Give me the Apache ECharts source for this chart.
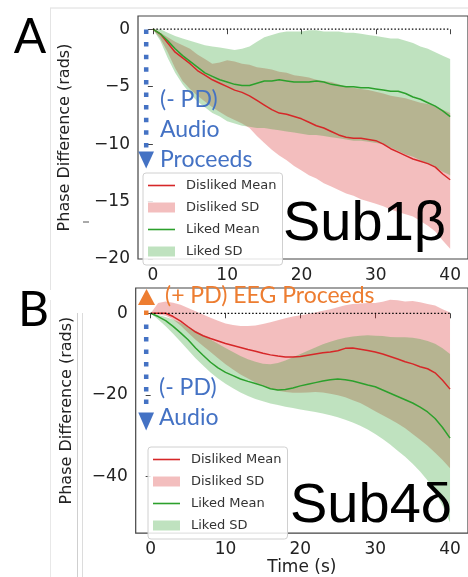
<!DOCTYPE html>
<html><head><meta charset="utf-8">
<script src="https://cdn.jsdelivr.net/npm/echarts@6/dist/echarts.min.js"></script>
<style>html,body{margin:0;padding:0;background:#fff}#c{width:468px;height:577px}</style>
</head><body><div id="c"></div>
<script>
// ---------- data ----------
const time = [0,1,2,3,4,5,6,7,8,9,10,11,12,13,14,15,16,17,18,19,20,21,22,23,24,25,26,27,28,29,30,31,32,33,34,35,36,37,38,39,40];
const xTicks = [0,10,20,30,40];
const yTicksA = [-20,-15,-10,-5,0];
const yTicksB = [-40,-20,0];
const zeroLine = [[0,0],[40,0]];

// Panel A (Sub1 beta)
const aDislikedMean = [0,-0.4,-1.2,-2.0,-2.5,-3.0,-3.6,-4.0,-4.4,-4.7,-5.0,-5.3,-5.5,-5.8,-6.2,-6.6,-7.0,-7.3,-7.4,-7.6,-7.8,-8.1,-8.4,-8.6,-8.9,-9.2,-9.4,-9.5,-9.5,-9.6,-9.7,-10.0,-10.4,-10.7,-11.0,-11.3,-11.5,-11.7,-12.0,-12.6,-13.1];
const aDislikedHi = [0,-0.3,-0.7,-1.1,-1.4,-1.7,-2.2,-2.6,-3.0,-2.9,-2.7,-2.8,-3.0,-3.1,-3.3,-3.4,-3.5,-3.7,-3.8,-4.0,-4.1,-4.2,-4.4,-4.5,-4.6,-4.8,-5.0,-5.1,-5.2,-5.3,-5.45,-5.6,-5.8,-5.9,-6.0,-6.2,-6.4,-6.5,-6.7,-7.0,-7.3];
const aDislikedLo = [0,-0.8,-2.0,-3.4,-4.5,-5.2,-5.8,-6.3,-6.8,-7.2,-7.6,-7.9,-8.2,-8.6,-9.3,-9.9,-10.5,-11.0,-11.4,-11.9,-12.3,-12.7,-13.0,-13.4,-13.7,-14.0,-14.3,-14.5,-14.8,-15.0,-15.2,-15.4,-15.7,-15.9,-16.1,-16.3,-16.7,-17.1,-17.6,-18.4,-19.1];
const aLikedMean = [0,-0.4,-1.0,-1.7,-2.3,-2.8,-3.3,-3.8,-4.1,-4.4,-4.6,-4.8,-4.9,-4.9,-4.7,-4.5,-4.5,-4.4,-4.5,-4.6,-4.6,-4.6,-4.5,-4.6,-4.8,-4.9,-5.0,-5.0,-5.1,-5.1,-5.2,-5.3,-5.4,-5.4,-5.6,-5.9,-6.1,-6.4,-6.7,-7.1,-7.6];
const aLikedHi = [0,0,-0.3,-0.6,-0.8,-1.0,-1.2,-1.4,-1.5,-1.6,-1.7,-1.8,-1.7,-1.5,-1.1,-0.7,-0.5,-0.3,-0.2,-0.2,-0.2,-0.1,-0.1,-0.2,-0.2,-0.2,-0.3,-0.3,-0.4,-0.5,-0.6,-0.7,-0.8,-0.8,-1.0,-1.2,-1.5,-1.7,-2.0,-2.3,-2.6];
const aLikedLo = [0,-1.0,-2.5,-3.8,-4.8,-5.6,-6.3,-6.8,-7.3,-7.6,-8.0,-8.2,-8.4,-8.5,-8.6,-8.6,-8.7,-8.8,-8.9,-9.0,-9.1,-9.2,-9.2,-9.3,-9.4,-9.5,-9.6,-9.7,-9.7,-9.8,-9.9,-10.0,-10.3,-10.6,-10.9,-11.1,-11.4,-11.7,-12.0,-12.4,-12.7];

// Panel B (Sub4 delta)
const bDislikedMean = [0,0,0,-0.8,-1.9,-3.3,-4.6,-5.5,-6.2,-6.8,-7.4,-7.9,-8.4,-8.9,-9.3,-9.8,-10.2,-10.5,-10.7,-10.7,-10.6,-10.3,-10.0,-9.7,-9.5,-9.2,-8.6,-8.5,-8.8,-9.1,-9.5,-10.0,-10.6,-11.2,-11.9,-12.4,-13.1,-13.6,-14.6,-16.4,-18.6];
const bDislikedHi = [0,2.5,2.9,2.6,2.1,1.3,0.5,-0.3,-1.1,-1.8,-2.5,-2.9,-3.1,-3.1,-3.0,-2.6,-2.2,-1.7,-1.2,-0.8,-0.5,-0.2,0.2,0.6,1.0,1.5,2.0,2.3,2.4,2.5,2.5,2.8,3.3,3.2,2.9,3.0,2.7,2.3,1.9,1.0,0.2];
const bDislikedLo = [0,-0.3,-0.6,-1.5,-3.0,-4.8,-6.5,-8.0,-9.5,-11.0,-12.5,-13.8,-15.0,-16.0,-17.0,-17.8,-18.5,-19.0,-19.3,-19.5,-19.5,-19.4,-19.3,-19.4,-19.7,-20.1,-20.6,-21.3,-22.0,-23.0,-24.0,-25.0,-26.0,-27.0,-28.2,-29.6,-31.0,-32.5,-34.2,-36.0,-38.0];
const bLikedMean = [0,-0.8,-1.8,-3.2,-4.8,-6.5,-8.5,-10.3,-12.0,-13.4,-14.5,-15.3,-16.1,-16.7,-17.2,-17.8,-18.5,-18.8,-18.7,-18.3,-17.8,-17.4,-17.0,-16.6,-16.3,-16.1,-16.3,-16.6,-17.1,-17.6,-18.0,-18.8,-19.6,-20.4,-21.2,-22.0,-23.0,-24.2,-25.8,-28.0,-30.6];
const bLikedHi = [0,-0.4,-0.9,-1.5,-2.3,-3.3,-4.3,-5.3,-6.4,-7.5,-8.5,-9.5,-10.5,-11.3,-11.9,-12.4,-12.5,-12.2,-11.6,-10.8,-10.0,-9.2,-8.4,-7.6,-7.0,-6.4,-6.0,-5.7,-5.5,-5.4,-5.5,-5.6,-5.8,-5.9,-5.9,-6.0,-6.3,-6.8,-7.5,-8.6,-10.0];
const bLikedLo = [0,-1.5,-3.2,-5.0,-7.0,-9.0,-11.0,-12.8,-14.5,-16.0,-17.3,-18.4,-19.4,-20.3,-21.0,-21.6,-22.1,-22.5,-22.9,-23.2,-23.6,-23.9,-24.2,-24.6,-25.0,-25.5,-26.1,-26.8,-27.6,-28.5,-29.6,-30.8,-32.2,-33.7,-35.2,-36.9,-38.8,-41.0,-43.6,-47.2,-51.3];

// ---------- styles ----------
const RED = '#d62728', GREEN = '#2ca02c';
const RED_FILL = 'rgba(214,39,40,0.3)', GREEN_FILL = 'rgba(44,160,44,0.3)';
const BLUE = '#4472C4', ORANGE = '#ED7D31';
const pts = arr => time.map((t, i) => [t, arr[i]]);
const minus = v => String(v).replace('-', '\u2212');

// SD band: one polygon (lower edge forward, upper edge back) placed through the axis scales
function bandSeries(idx, name, lo, hi, fill) {
  return { type: 'custom', name: name, xAxisIndex: idx, yAxisIndex: idx, silent: true,
    color: fill, itemStyle: { color: fill },
    data: time.map((t, i) => [t, lo[i], hi[i]]),
    encode: { x: 0, y: [1, 2] },
    renderItem: function (params, api) {
      if (params.dataIndex !== 0) return null;
      const poly = [];
      for (let i = 0; i < time.length; i++) poly.push(api.coord([time[i], lo[i]]));
      for (let i = time.length - 1; i >= 0; i--) poly.push(api.coord([time[i], hi[i]]));
      return { type: 'polygon', shape: { points: poly }, style: { fill: fill },
        clipPath: { type: 'rect', shape: { x: params.coordSys.x, y: params.coordSys.y, width: params.coordSys.width, height: params.coordSys.height } } };
    } };
}
function meanSeries(idx, name, arr, color) {
  return { type: 'line', name: name, xAxisIndex: idx, yAxisIndex: idx, data: pts(arr),
    symbol: 'none', color: color, lineStyle: { color: color, width: 1.5 }, z: 3 };
}
function zeroSeries(idx) {
  return { type: 'line', name: 'zero', xAxisIndex: idx, yAxisIndex: idx, data: zeroLine,
    symbol: 'none', silent: true, lineStyle: { color: '#000', width: 1.2, type: [1.5, 2] }, z: 4 };
}

const tickFont = { fontFamily: 'DejaVu Sans', fontSize: 17, color: '#222' };
function xAxis(idx, showName) {
  return { type: 'value', gridIndex: idx, min: -2, max: 42,
    axisLine: { show: false }, splitLine: { show: false },
    axisTick: { show: true, customValues: xTicks, length: 5, lineStyle: { color: '#444' } },
    axisLabel: Object.assign({ customValues: xTicks, margin: 8 }, tickFont),
    name: showName ? 'Time (s)' : '', nameLocation: 'middle', nameGap: 21,
    nameTextStyle: { fontFamily: 'DejaVu Sans', fontSize: 17, color: '#222' } };
}
function yAxis(idx, min, max, ticks, gap) {
  return { type: 'value', gridIndex: idx, min: min, max: max,
    axisLine: { show: false }, splitLine: { show: false },
    axisTick: { show: true, customValues: ticks, length: 5, lineStyle: { color: '#444' } },
    axisLabel: Object.assign({ customValues: ticks, margin: 8, formatter: minus }, tickFont),
    name: 'Phase Difference (rads)', nameLocation: 'middle', nameRotate: 90, nameGap: gap,
    nameTextStyle: { fontFamily: 'DejaVu Sans', fontSize: 16, color: '#222' } };
}
const LINE_ICON = 'path://M0,0 L27,0 L27,1.6 L0,1.6 Z';
const legendNames = [
  { name: 'Disliked Mean', icon: LINE_ICON },
  { name: 'Disliked SD', icon: 'rect', itemStyle: { color: RED_FILL } },
  { name: 'Liked Mean', icon: LINE_ICON },
  { name: 'Liked SD', icon: 'rect', itemStyle: { color: GREEN_FILL } }
];
function legend(left, top) {
  return { data: legendNames, orient: 'vertical', left: left, top: top,
    itemWidth: 27, itemHeight: 10, itemGap: 9, selectedMode: false,
    padding: [6, 6, 7, 5], backgroundColor: 'rgba(255,255,255,0.85)',
    borderColor: '#d0d0d0', borderWidth: 1, borderRadius: 3,
    itemStyle: { borderWidth: 0 },
    textStyle: { fontFamily: 'DejaVu Sans', fontSize: 13, color: '#333', lineHeight: 10, padding: [0, 0, 0, 6] } };
}

const txt = (text, x, y, font, fill, align) => ({ type: 'text', silent: true, z: 100,
  style: { text: text, x: x, y: y, font: font, fill: fill,
    textAlign: align || 'left', align: align || 'left', textVerticalAlign: 'middle', verticalAlign: 'middle' } });
const ln = (x1, y1, x2, y2, stroke, w, dash) => ({ type: 'line', silent: true, z: 100,
  shape: { x1: x1, y1: y1, x2: x2, y2: y2 },
  style: { stroke: stroke, lineWidth: w, lineDash: dash || null } });
const tri = (points, fill) => ({ type: 'polygon', silent: true, z: 100, shape: { points: points }, style: { fill: fill } });

const LBL = '23px Lato';
const graphics = [
  ln(50, 8, 468, 8, '#dcdcdc', 1), ln(50.5, 8, 50.5, 290, '#e4e4e4', 1),
  ln(50.5, 300, 50.5, 577, '#e8e8e8', 1), ln(77.5, 313, 77.5, 577, '#cfcfcf', 1), ln(82.5, 313, 82.5, 577, '#dcdcdc', 1),
  ln(83, 222, 89, 222, '#555', 1),
  txt('A', 30, 38, '48px Lato', '#000', 'center'),
  txt('B', 33.5, 311, '48px Lato', '#000', 'center'),
  txt('Sub1\u03b2', 283, 225, '56px "Liberation Sans"', '#000'),
  txt('Sub4\u03b4', 290, 507, '56px "Liberation Sans"', '#000'),
  ln(146.2, 29.5, 146.2, 150, BLUE, 4.5, [4.5, 8.1]),
  tri([[138.3, 151.5], [154, 151.5], [146.2, 168.5]], BLUE),
  txt('(- PD)', 160, 100, LBL, BLUE), txt('Audio', 160, 130, LBL, BLUE), txt('Proceeds', 160, 160, LBL, BLUE),
  tri([[138, 305], [155, 305], [146.5, 289]], ORANGE),
  { type: 'rect', silent: true, z: 100, shape: { x: 144, y: 310.5, width: 4.5, height: 4.5 }, style: { fill: ORANGE } },
  txt('(+ PD) EEG Proceeds', 165, 296, LBL, ORANGE),
  ln(146.2, 324.5, 146.2, 411, BLUE, 4.5, [4.5, 8]),
  tri([[138.3, 412.5], [154, 412.5], [146.2, 430.5]], BLUE),
  txt('(- PD)', 159, 388, LBL, BLUE), txt('Audio', 159, 418, LBL, BLUE)
];

const chart = echarts.init(document.getElementById('c'), null, { renderer: 'canvas' });
chart.setOption({
  animation: false,
  backgroundColor: '#fff',
  grid: [
    { left: 138, top: 16, width: 334, height: 243, show: true, borderColor: '#444', borderWidth: 1.2, backgroundColor: 'transparent' },
    { left: 135.7, top: 288, width: 334, height: 249, show: true, borderColor: '#444', borderWidth: 1.2, backgroundColor: 'transparent' }
  ],
  xAxis: [
    Object.assign(xAxis(0, false), { max: 42.4 }),
    Object.assign(xAxis(1, true), { max: 42.4 })
  ],
  yAxis: [yAxis(0, -20, 1.15, yTicksA, 65), yAxis(1, -53.9, 6.2, yTicksB, 61)],
  legend: [legend(143, 173), legend(148, 447)],
  series: [
    bandSeries(0, 'Disliked SD', aDislikedLo, aDislikedHi, RED_FILL),
    bandSeries(0, 'Liked SD', aLikedLo, aLikedHi, GREEN_FILL),
    meanSeries(0, 'Disliked Mean', aDislikedMean, RED),
    meanSeries(0, 'Liked Mean', aLikedMean, GREEN),
    zeroSeries(0),
    bandSeries(1, 'Disliked SD', bDislikedLo, bDislikedHi, RED_FILL),
    bandSeries(1, 'Liked SD', bLikedLo, bLikedHi, GREEN_FILL),
    meanSeries(1, 'Disliked Mean', bDislikedMean, RED),
    meanSeries(1, 'Liked Mean', bLikedMean, GREEN),
    zeroSeries(1)
  ],
  graphic: graphics
});
</script></body></html>
